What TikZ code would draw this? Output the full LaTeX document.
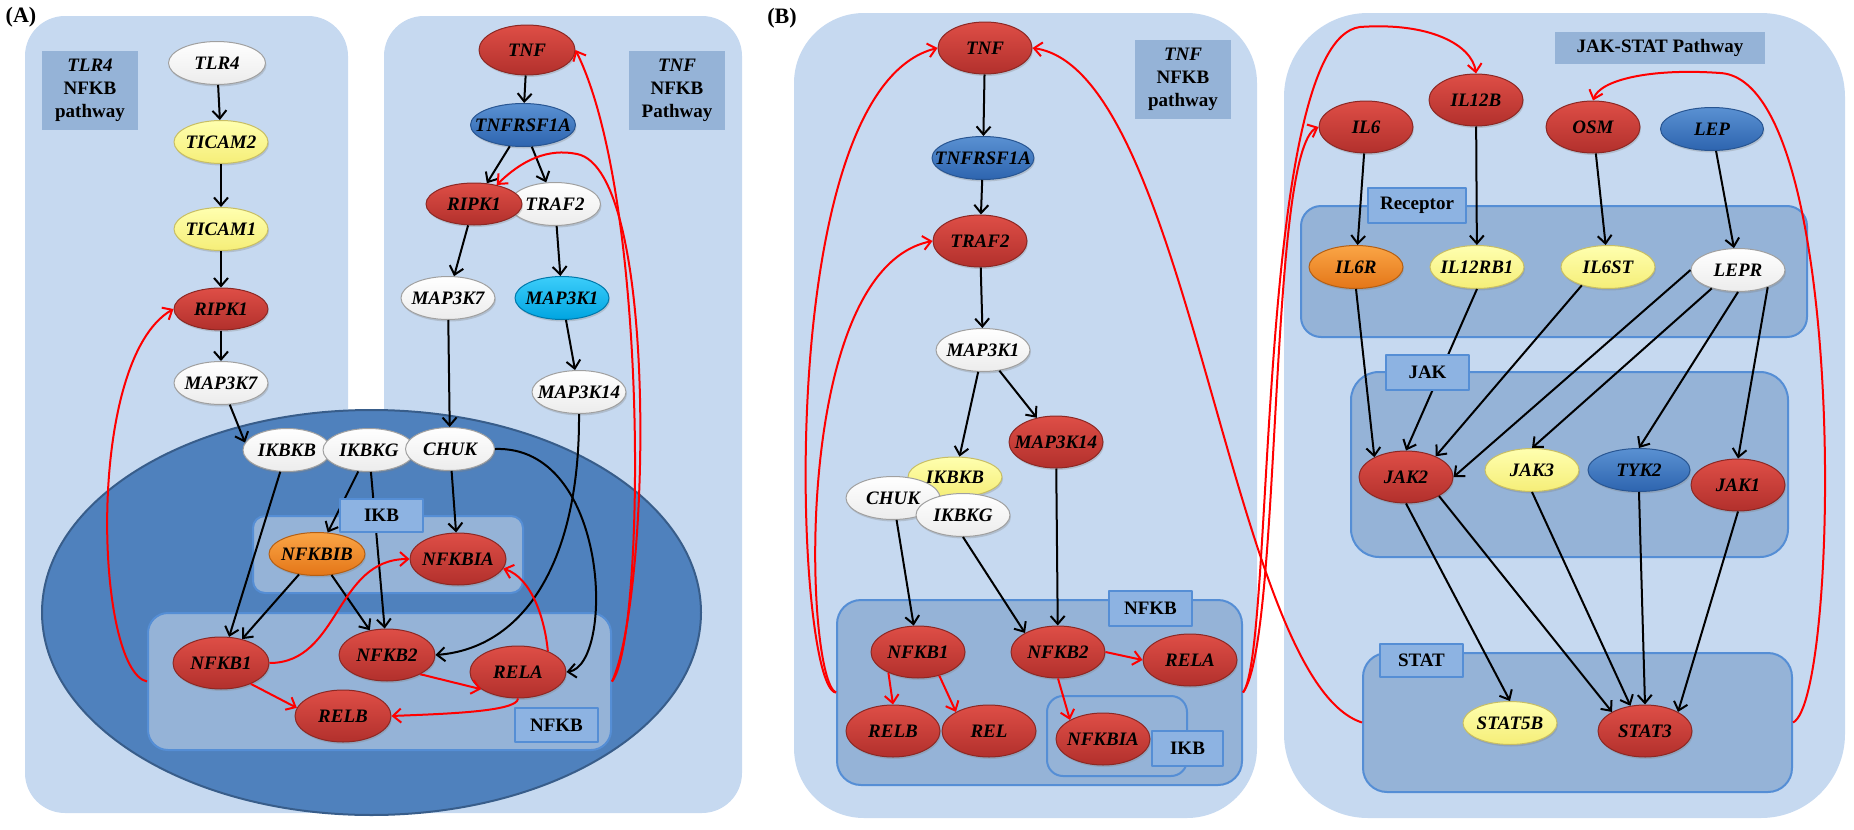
\documentclass[tikz,border=0pt]{standalone}
\usepackage{fontspec}
\setmainfont{Liberation Serif}
\usetikzlibrary{arrows.meta,shapes.geometric,shadows}

\definecolor{panelblue}{RGB}{198,217,240}
\definecolor{titleblue}{RGB}{149,179,215}
\definecolor{grpline}{RGB}{85,142,213}
\definecolor{lblblue}{RGB}{141,179,226}
\definecolor{darkblue}{RGB}{79,129,189}
\definecolor{darkline}{RGB}{56,93,138}
\definecolor{rtop}{RGB}{222,78,70}
\definecolor{rbot}{RGB}{178,48,44}
\definecolor{rline}{RGB}{140,40,36}
\definecolor{ytop}{RGB}{255,255,175}
\definecolor{ybot}{RGB}{245,238,120}
\definecolor{yline}{RGB}{200,190,100}
\definecolor{otop}{RGB}{250,165,70}
\definecolor{obot}{RGB}{228,118,24}
\definecolor{oline}{RGB}{180,95,20}
\definecolor{btop}{RGB}{90,145,210}
\definecolor{bbot}{RGB}{45,100,175}
\definecolor{bline}{RGB}{40,85,145}
\definecolor{ctop}{RGB}{60,205,250}
\definecolor{cbot}{RGB}{0,165,225}
\definecolor{cline}{RGB}{0,120,170}
\definecolor{wbot}{RGB}{236,236,236}
\definecolor{wline}{RGB}{160,160,160}
\definecolor{fbred}{RGB}{255,0,0}

\tikzset{
  panel/.style={rectangle, fill=panelblue, inner sep=0pt, rounded corners=#1},
  panel/.default=20pt,
  titlebox/.style={rectangle, fill=titleblue, inner sep=0pt, align=center,
    font=\bfseries\fontsize{9.5}{11.5}\selectfont},
  grp/.style={rectangle, fill=titleblue, draw=grpline, line width=1pt,
    inner sep=0pt, rounded corners=#1},
  grp/.default=10pt,
  lbl/.style={rectangle, fill=lblblue, draw=grpline, line width=1pt, inner sep=0pt,
    minimum width=41.5pt, minimum height=17pt, font=\bfseries\fontsize{9.5}{11}\selectfont},
  gene/.style={ellipse, inner xsep=-9pt, inner ysep=0pt, minimum width=47pt,
    minimum height=21.5pt, line width=0.5pt,
    font=\bfseries\itshape\fontsize{9.5}{11}\selectfont,
    drop shadow={opacity=0.3, shadow xshift=0.5pt, shadow yshift=-1pt}},
  rnode/.style={gene, minimum height=26pt, draw=rline, top color=rtop, bottom color=rbot},
  ynode/.style={gene, draw=yline, top color=ytop, bottom color=ybot},
  onode/.style={gene, draw=oline, top color=otop, bottom color=obot},
  bnode/.style={gene, draw=bline, top color=btop, bottom color=bbot},
  cnode/.style={gene, draw=cline, top color=ctop, bottom color=cbot},
  wnode/.style={gene, draw=wline, top color=white, bottom color=wbot},
  arr/.style={draw=black, line width=1pt, -{Straight Barb[length=4pt,width=7pt]}},
  redarr/.style={draw=fbred, line width=1pt, -{Straight Barb[length=4pt,width=7pt]}}
}

\begin{document}
\begin{tikzpicture}[x=0.5pt, y=-0.5pt, line join=round]
\useasboundingbox (0,0) rectangle (1854,830);

% ---------- panels ----------
\node[panel=20pt, minimum width=161.5pt, minimum height=398.5pt] (pA1) at (186.5,414.5) {};
\node[panel=20pt, minimum width=179pt, minimum height=398.5pt] (pA2) at (563,414.5) {};
\node[panel=35pt, minimum width=231.5pt, minimum height=402.5pt] (pB1) at (1025.5,415.5) {};
\node[panel=42pt, minimum width=280.5pt, minimum height=402.5pt] (pB2) at (1564.5,415.5) {};

% cell of panel A
\draw[fill=darkblue, draw=darkline, line width=1pt] (371.5,612.5) ellipse [x radius=164.75pt, y radius=101.25pt];

% ---------- titles ----------
\node[titlebox, minimum width=48pt, minimum height=39.5pt] (tA1) at (90,90.5) {{\itshape TLR4}\\NFKB\\pathway};
\node[titlebox, minimum width=48pt, minimum height=39.5pt] (tA2) at (677,90.5) {{\itshape TNF}\\NFKB\\Pathway};
\node[titlebox, minimum width=48pt, minimum height=39.5pt] (tB1) at (1183,79.5) {{\itshape TNF}\\NFKB\\pathway};
\node[titlebox, minimum width=105pt, minimum height=16pt] (tB2) at (1660,48) {JAK-STAT Pathway};

% ---------- groups ----------
\node[grp=6pt, minimum width=135pt, minimum height=38.5pt] (ikbA) at (388,554.5) {};
\node[grp=10pt, minimum width=231.5pt, minimum height=68.5pt] (nfkbA) at (379.5,681.5) {};
\node[grp=12pt, minimum width=202.5pt, minimum height=92.5pt] (nfkbB) at (1039.5,692.5) {};
\node[grp=8pt, minimum width=70pt, minimum height=40pt] (ikbB) at (1117,736) {};
\node[grp=10pt, minimum width=253pt, minimum height=65.5pt] (recB) at (1554,271.5) {};
\node[grp=14pt, minimum width=218.5pt, minimum height=92.5pt] (jakB) at (1569.5,464.5) {};
\node[grp=12pt, minimum width=214.5pt, minimum height=69.5pt] (statB) at (1577.5,722.5) {};

% ---------- (A) TLR4 NFKB ----------
\node[wnode, minimum width=48.5pt] (a1tlr4) at (217,63) {TLR4};
\node[ynode] (a1ticam2) at (221,142) {TICAM2};
\node[ynode] (a1ticam1) at (221,229) {TICAM1};
\node[rnode, minimum height=21pt] (a1ripk1) at (221,309) {RIPK1};
\node[wnode] (a1map3k7) at (221,383) {MAP3K7};

% ---------- (A) TNF NFKB ----------
\node[rnode, minimum width=48pt, minimum height=25pt] (a2tnf) at (527,50) {TNF};
\node[bnode, minimum width=52.5pt] (a2tnfr) at (523,125) {TNFRSF1A};
\node[wnode, minimum width=45.5pt] (a2traf2) at (555,204) {TRAF2};
\node[rnode, minimum width=48pt, minimum height=21pt] (a2ripk1) at (474,204) {RIPK1};
\node[wnode] (a2map3k7) at (448,298) {MAP3K7};
\node[cnode] (a2map3k1) at (562,298) {MAP3K1};
\node[wnode] (a2map3k14) at (579,392) {MAP3K14};

% ---------- (A) complex ----------
\node[wnode, minimum width=44pt] (aikbkb) at (287,450) {IKBKB};
\node[wnode, minimum width=46pt] (aikbkg) at (369,450) {IKBKG};
\node[wnode, minimum width=44.5pt] (achuk) at (450,449) {CHUK};
\node[onode, minimum width=48pt] (anfkbib) at (317,554) {NFKBIB};
\node[rnode, minimum width=48pt] (anfkbia) at (458,559) {NFKBIA};
\node[rnode, minimum width=48pt] (anfkb1) at (221,663) {NFKB1};
\node[rnode, minimum width=48pt] (anfkb2) at (387,655) {NFKB2};
\node[rnode, minimum width=48pt] (arela) at (518,672) {RELA};
\node[rnode, minimum width=48pt] (arelb) at (343,716) {RELB};

% ---------- (B) TNF NFKB ----------
\node[rnode] (btnf) at (985,48) {TNF};
\node[bnode, minimum width=51pt] (btnfr) at (983,158) {TNFRSF1A};
\node[rnode] (btraf2) at (980,241) {TRAF2};
\node[wnode] (bmap3k1) at (983,350) {MAP3K1};
\node[rnode] (bmap3k14) at (1056,442) {MAP3K14};
\node[ynode, minimum height=20pt] (bikbkb) at (955,477) {IKBKB};
\node[wnode] (bchuk) at (893,498) {CHUK};
\node[wnode] (bikbkg) at (963,515) {IKBKG};
\node[rnode] (bnfkb1) at (918,652) {NFKB1};
\node[rnode] (bnfkb2) at (1058,652) {NFKB2};
\node[rnode] (brela) at (1190,660) {RELA};
\node[rnode] (brelb) at (893,731) {RELB};
\node[rnode] (brel) at (989,731) {REL};
\node[rnode] (bnfkbia) at (1103,739) {NFKBIA};

% ---------- (B) JAK-STAT ----------
\node[rnode] (il6) at (1366,127) {IL6};
\node[rnode] (il12b) at (1476,100) {IL12B};
\node[rnode] (osm) at (1593,127) {OSM};
\node[bnode, minimum width=51.5pt] (lep) at (1712,129) {LEP};
\node[onode] (il6r) at (1356,267) {IL6R};
\node[ynode] (il12rb1) at (1477,267) {IL12RB1};
\node[ynode] (il6st) at (1608,267) {IL6ST};
\node[wnode] (lepr) at (1738,270) {LEPR};
\node[rnode] (jak2) at (1406,477) {JAK2};
\node[ynode] (jak3) at (1532,470) {JAK3};
\node[bnode, minimum width=51pt] (tyk2) at (1639,470) {TYK2};
\node[rnode] (jak1) at (1738,485) {JAK1};
\node[ynode] (stat5b) at (1510,723) {STAT5B};
\node[rnode] (stat3) at (1645,731) {STAT3};

% ---------- edges (A) ----------
\draw[arr] (a1tlr4) -- (a1ticam2);
\draw[arr] (a1ticam2) -- (a1ticam1);
\draw[arr] (a1ticam1) -- (a1ripk1);
\draw[arr] (a1ripk1) -- (a1map3k7);
\draw[arr] (a1map3k7) -- (aikbkb.170);
\draw[arr] (a2tnf) -- (a2tnfr);
\draw[arr] (a2tnfr) -- (a2ripk1);
\draw[arr] (a2tnfr) -- (a2traf2);
\draw[arr] (a2ripk1) -- (a2map3k7);
\draw[arr] (a2traf2) -- (a2map3k1);
\draw[arr] (a2map3k1) -- (a2map3k14);
\draw[arr] (a2map3k7) -- (achuk);
\draw[arr] (a2map3k14.south) .. controls (580,560) and (525,648) .. (anfkb2.east);
\draw[arr] (achuk.east) .. controls (610,445) and (615,665) .. (arela.east);
\draw[arr] (aikbkb) -- (anfkb1);
\draw[arr] (aikbkg) -- (anfkbib);
\draw[arr] (aikbkg) -- (anfkb2);
\draw[arr] (achuk) -- (anfkbia);
\draw[arr] (anfkbib) -- (anfkb1);
\draw[arr] (anfkbib) -- (anfkb2);

\draw[redarr] (nfkbA.west) .. controls (95,670) and (85,360) .. (a1ripk1.west);
\draw[redarr] (nfkbA.east) .. controls (645,640) and (650,200) .. (a2tnf.east);
\draw[redarr] (nfkbA.east) .. controls (650,600) and (660,170) .. (577,154) .. controls (548,148) and (522,160) .. (a2ripk1.40);
\draw[redarr] (anfkb1.east) .. controls (340,663) and (335,559) .. (anfkbia.west);
\draw[redarr] (anfkb1.-35) -- (arelb.170);
\draw[redarr] (anfkb2.-30) -- (arela.205);
\draw[redarr] (arela.south) .. controls (518,712) and (440,714) .. (arelb.east);
\draw[redarr] (arela.35) .. controls (545,620) and (532,578) .. (anfkbia.-12);

% ---------- edges (B) ----------
\draw[arr] (btnf) -- (btnfr);
\draw[arr] (btnfr) -- (btraf2);
\draw[arr] (btraf2) -- (bmap3k1);
\draw[arr] (bmap3k1) -- (bmap3k14);
\draw[arr] (bmap3k1) -- (bikbkb);
\draw[arr] (bchuk) -- (bnfkb1);
\draw[arr] (bikbkg.south) -- (bnfkb2.150);
\draw[arr] (bmap3k14) -- (bnfkb2);

\draw[redarr] (bnfkb2.east) -- (brela.west);
\draw[redarr] (bnfkb1.215) -- (brelb.north);
\draw[redarr] (bnfkb1.-48) -- (brel.150);
\draw[redarr] (bnfkb2.south) -- (bnfkbia.150);
\draw[redarr] (nfkbB.west) .. controls (795,690) and (770,90) .. (btnf.west);
\draw[redarr] (nfkbB.west) .. controls (805,680) and (790,270) .. (btraf2.west);
\draw[redarr] (nfkbB.east) .. controls (1282,640) and (1268,150) .. (il6.west);
\draw[redarr] (nfkbB.east) .. controls (1275,650) and (1255,40) .. (1360,27) .. controls (1430,22) and (1472,45) .. (il12b.north);
\draw[redarr] (statB.west) .. controls (1230,680) and (1190,70) .. (btnf.east);
\draw[redarr] (statB.east) .. controls (1840,700) and (1850,80) .. (1720,73) .. controls (1650,68) and (1600,80) .. (osm.north);

\draw[arr] (il6) -- (il6r);
\draw[arr] (il12b) -- (il12rb1);
\draw[arr] (osm) -- (il6st);
\draw[arr] (lep) -- (lepr);
\draw[arr] (il6r.south) -- (jak2.148);
\draw[arr] (il12rb1.south) -- (jak2.north);
\draw[arr] (il6st.215) -- (jak2.35);
\draw[arr] (lepr.west) -- (jak2.east);
\draw[arr] (lepr.215) -- (jak3.north);
\draw[arr] (lepr.south) -- (tyk2.north);
\draw[arr] (lepr.-30) -- (jak1.north);
\draw[arr] (jak2.south) -- (stat5b.north);
\draw[arr] (jak2.-30) -- (stat3.150);
\draw[arr] (jak3.south) -- (stat3.120);
\draw[arr] (tyk2.south) -- (stat3.north);
\draw[arr] (jak1.south) -- (stat3.30);

% ---------- group labels ----------
\node[lbl, minimum height=16.5pt] (lIkbA) at (381.5,515.5) {IKB};
\node[lbl] (lNfkbA) at (556.5,725) {NFKB};
\node[lbl, minimum height=17.5pt] (lNfkbB) at (1150.5,608.5) {NFKB};
\node[lbl, minimum width=35.5pt, minimum height=17.5pt] (lIkbB) at (1187.5,748.5) {IKB};
\node[lbl, minimum width=49pt, minimum height=17.5pt] (lRec) at (1417,205.5) {Receptor};
\node[lbl, minimum height=17.5pt] (lJak) at (1427.5,372.5) {JAK};
\node[lbl, minimum height=16.5pt] (lStat) at (1421.5,660.5) {STAT};

% ---------- panel letters ----------
\node[font=\bfseries\fontsize{11}{13}\selectfont] (labA) at (21,17) {(A)};
\node[font=\bfseries\fontsize{11}{13}\selectfont] (labB) at (782,18) {(B)};

\end{tikzpicture}
\end{document}
